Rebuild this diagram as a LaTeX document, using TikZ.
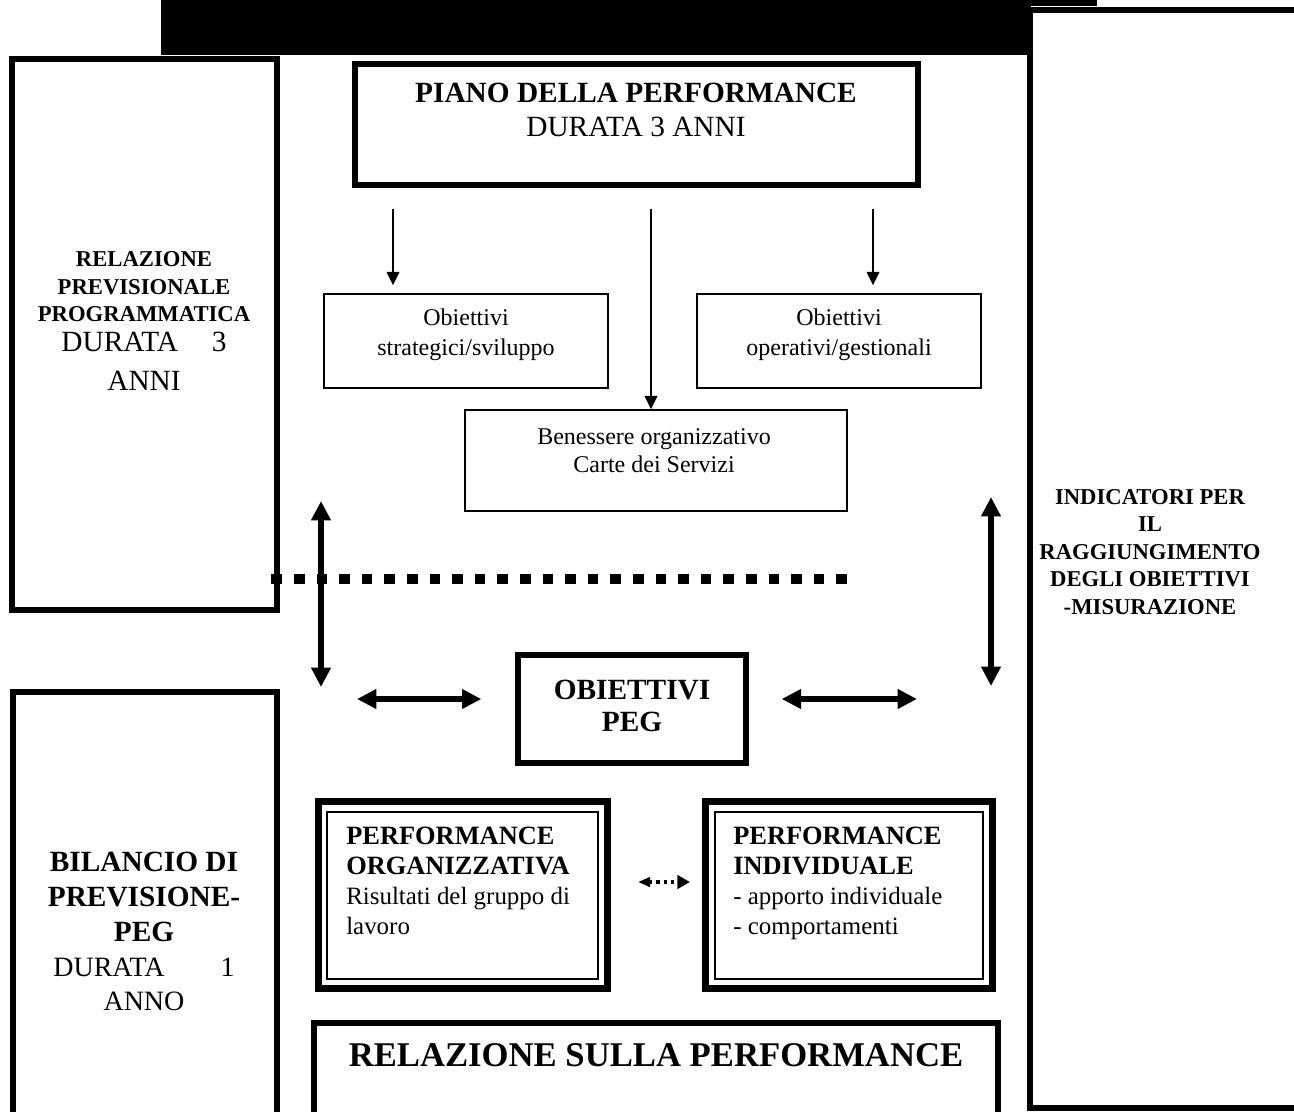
\documentclass[tikz,border=0pt]{standalone}
\usepackage{fontspec}
\setmainfont{Liberation Serif}
\usetikzlibrary{arrows.meta}

\begin{document}
\begin{tikzpicture}[x=0.75pt,y=0.75pt,yscale=-1,xscale=1,
  thinbox/.style={draw, line width=1.1pt, inner sep=0pt},
  thickbox/.style={draw, line width=4.5pt, inner sep=0pt},
  heavybox/.style={draw, line width=5.25pt, inner sep=0pt},
  txt/.style={inner sep=0pt, align=center},
  ltxt/.style={inner sep=0pt, align=left, anchor=north west},
  thinarr/.style={line width=1.1pt, -{Triangle[length=10pt,width=9.5pt]}},
  bigarr/.style={line width=4.5pt, {Triangle[length=14.5pt,width=14pt]}-{Triangle[length=14.5pt,width=14pt]}},
  dotarr/.style={line width=2.4pt, dash pattern=on 2.4pt off 3pt, {Triangle[length=9pt,width=7pt]}-{Triangle[length=9.5pt,width=10pt]}},
  sepline/.style={line width=7.5pt, dash pattern=on 7.9pt off 9.05pt}]
\useasboundingbox (0,0) rectangle (1294,1111);

%header bar
\fill (161,0) rectangle (1031,55);
\fill (1031,0) rectangle (1097,6);

%dotted separator
\coordinate (sep1) at (271.4,579);
\coordinate (sep2) at (849,579);
\draw[sepline] (sep1) -- (sep2);

%side boxes
\node[thickbox, minimum width=198.75pt, minimum height=413.6pt] (rpp) at (144,334.25) {};
\node[thickbox, minimum width=198pt, minimum height=324.4pt] (bil) at (144.5,908.75) {};
\node[thickbox, minimum width=201pt, minimum height=823.5pt] (ind) at (1164,559) {};

\node[txt, font=\fontsize{17}{20.6}\selectfont\bfseries] (rpp-t) at (144,287) {RELAZIONE\\PREVISIONALE\\PROGRAMMATICA};
\node[txt, font=\fontsize{22}{29}\selectfont] (rpp-d) at (144,361.5) {DURATA\hspace{1.15em}3\\ANNI};
\node[txt, font=\fontsize{22}{26}\selectfont\bfseries] (bil-t) at (144,897) {BILANCIO DI\\PREVISIONE-\\PEG};
\node[txt, font=\fontsize{21}{25.5}\selectfont] (bil-d) at (144,984) {DURATA\hspace{2em}1\\ANNO};
\node[txt, font=\fontsize{17}{20.6}\selectfont\bfseries] (ind-t) at (1150,552) {INDICATORI PER\\IL\\RAGGIUNGIMENTO\\DEGLI OBIETTIVI\\-MISURAZIONE};

%piano
\node[thickbox, minimum width=422.6pt, minimum height=91.1pt] (piano) at (636.25,124.25) {};
\node[txt, font=\fontsize{22}{26}\selectfont] (piano-t) at (636,110) {\textbf{PIANO DELLA PERFORMANCE}\\DURATA 3 ANNI};

%obiettivi
\node[thinbox, minimum width=213pt, minimum height=70.5pt] (strat) at (466,341) {};
\node[thinbox, minimum width=213pt, minimum height=70.5pt] (oper) at (839,341) {};
\node[thinbox, minimum width=286.5pt, minimum height=75.75pt] (ben) at (656,460.5) {};
\node[txt, font=\fontsize{18}{22.5}\selectfont] (strat-t) at (466,335) {Obiettivi\\strategici/sviluppo};
\node[txt, font=\fontsize{18}{22.5}\selectfont] (oper-t) at (839,335) {Obiettivi\\operativi/gestionali};
\node[txt, font=\fontsize{18}{21}\selectfont] (ben-t) at (654,451) {Benessere organizzativo\\Carte dei Servizi};

\coordinate (s1) at (393,209);
\coordinate (s2) at (651,209);
\coordinate (s3) at (873,209);
\draw[thinarr, shorten >=6pt] (s1) -- (s1 |- strat.north);
\draw[thinarr] (s2) -- (s2 |- ben.north);
\draw[thinarr, shorten >=6pt] (s3) -- (s3 |- oper.north);

%peg
\node[draw, line width=4pt, inner sep=0pt, minimum width=171pt, minimum height=81pt] (peg) at (632,709) {};
\node[txt, font=\fontsize{22}{24}\selectfont\bfseries] (peg-t) at (632,706) {OBIETTIVI\\PEG};

\coordinate (vl1) at (321,501);
\coordinate (vl2) at (321,687);
\coordinate (vr1) at (991,497);
\coordinate (vr2) at (991,686);
\draw[bigarr] (vl1) -- (vl2);
\draw[bigarr] (vr1) -- (vr2);
\coordinate (hl) at (357,699);
\coordinate (hr) at (917,699);
\draw[bigarr, shorten >=25.5pt] (hl) -- (hl -| peg.west);
\draw[bigarr, shorten >=24.75pt] (hr) -- (hr -| peg.east);

%performance
\node[heavybox, minimum width=217.1pt, minimum height=139.9pt] (org) at (463.25,894.75) {};
\node[thinbox, minimum width=203.25pt, minimum height=125.25pt] (org-in) at (462.5,895.5) {};
\node[heavybox, minimum width=214.9pt, minimum height=139.9pt] (indiv) at (849.25,894.75) {};
\node[thinbox, minimum width=201pt, minimum height=125.25pt] (indiv-in) at (849,895.5) {};
\node[ltxt, font=\fontsize{18.7}{22.5}\selectfont] (org-t) at (346,827) {{\fontsize{19.8}{22.5}\selectfont\bfseries PERFORMANCE}\\{\fontsize{19.8}{22.5}\selectfont\bfseries ORGANIZZATIVA}\\Risultati del gruppo di\\lavoro};
\node[ltxt, font=\fontsize{18.7}{22.5}\selectfont] (indiv-t) at (733,827) {{\fontsize{19.8}{22.5}\selectfont\bfseries PERFORMANCE}\\{\fontsize{19.8}{22.5}\selectfont\bfseries INDIVIDUALE}\\- apporto individuale\\- comportamenti};

\coordinate (d1) at (638,882);
\coordinate (d2) at (690,882);
\draw[dotarr] (d1) -- (d2);

%relazione
\node[thickbox, minimum width=513pt, minimum height=80.25pt] (rel) at (656,1076.5) {};
\node[txt, font=\fontsize{26}{30}\selectfont\bfseries] (rel-t) at (656,1055) {RELAZIONE SULLA PERFORMANCE};
\end{tikzpicture}
\end{document}
